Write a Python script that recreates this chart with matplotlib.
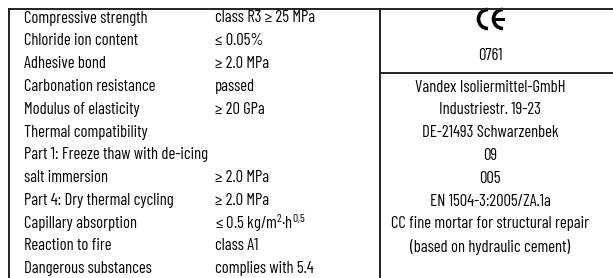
import matplotlib.pyplot as plt
from matplotlib.patches import Arc

plt.rcParams['font.family'] = ['Barlow Condensed', 'DejaVu Sans']
plt.rcParams['mathtext.fontset'] = 'custom'
plt.rcParams['mathtext.rm'] = 'Barlow Condensed'
plt.rcParams['mathtext.default'] = 'regular'

# Eigenschaften (linke Spalte) und deklarierte Werte
properties = [
    'Compressive strength',
    'Chloride ion content',
    'Adhesive bond',
    'Carbonation resistance',
    'Modulus of elasticity',
    'Thermal compatibility',
    'Part 1: Freeze thaw with de-icing',
    'salt immersion',
    'Part 4: Dry thermal cycling',
    'Capillary absorption',
    'Reaction to fire',
    'Dangerous substances',
]
values = [
    'class R3 \u2265 25 MPa',
    '\u2264 0.05%',
    '\u2265 2.0 MPa',
    'passed',
    '\u2265 20 GPa',
    '',
    '',
    '\u2265 2.0 MPa',
    '\u2265 2.0 MPa',
    '\u2264 0.5 kg/m$^2$\u00b7h$^{0{,}5}$',
    'class A1',
    'complies with 5.4',
]

notified_body = '0761'
maker_lines = [
    'Vandex Isoliermittel-GmbH',
    'Industriestr. 19-23',
    'DE-21493 Schwarzenbek',
    '09',
    '005',
    'EN 1504-3:2005/ZA.1a',
    'CC fine mortar for structural repair',
    '(based on hydraulic cement)',
]

fig = plt.figure(figsize=(6.13, 2.78), dpi=100)
ax = fig.add_axes([0, 0, 1, 1])
ax.set_xlim(0, 613)
ax.set_ylim(278, 0)
ax.axis('off')

# Rahmenlinien
lc = '#222222'
ax.plot([9, 613], [9, 9], color=lc, lw=1.4)
ax.plot([9, 9], [9, 278], color=lc, lw=1.4)
ax.plot([380, 380], [9, 278], color=lc, lw=1.4)
ax.plot([380, 613], [73, 73], color=lc, lw=1.4)

# linke Tabelle
row_h = 22.8
fs = 12
tc = '#050505'
for i, (p, v) in enumerate(zip(properties, values)):
    y = 18 + i * row_h
    ax.text(24, y, p, fontsize=fs, va='center', ha='left', color=tc)
    if v:
        ax.text(215, y, v, fontsize=fs, va='center', ha='left', color=tc)

# CE-Zeichen
cx = 490
ax.add_patch(Arc((cx - 2, 19), 19, 19, theta1=90, theta2=270, color='black', lw=2.6))
ax.add_patch(Arc((cx + 13, 19), 19, 19, theta1=90, theta2=270, color='black', lw=2.6))
ax.plot([cx + 5, cx + 13], [19, 19], color='black', lw=2.2)

ax.text(cx, 55, notified_body, fontsize=fs, ha='center', va='center', color=tc)
for i, line in enumerate(maker_lines):
    ax.text(cx, 87 + i * row_h, line, fontsize=fs, ha='center', va='center', color=tc)

fig.savefig('out.png', dpi=100)
